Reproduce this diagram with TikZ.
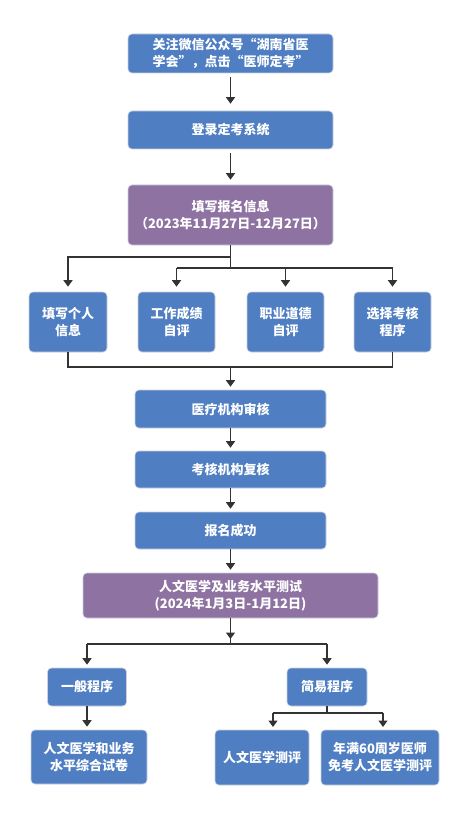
\documentclass[tikz,border=0pt]{standalone}
\usepackage{fontspec}
\newfontfamily\cjk{Noto Sans CJK SC}
\usetikzlibrary{arrows.meta}
\definecolor{boxblue}{HTML}{4F7EC2}
\definecolor{boxpurple}{HTML}{8E72A1}
\definecolor{boxedge}{HTML}{C9D2DE}
\definecolor{linegray}{HTML}{333333}
\begin{document}
\begin{tikzpicture}[x=1pt,y=-1pt,
  bx/.style={draw=boxedge,line width=0.6pt,fill=boxblue,rounded corners=4pt,text=white,
    font=\cjk\bfseries\fontsize{13}{17}\selectfont,align=center,inner sep=0pt},
  px/.style={bx,fill=boxpurple},
  ln/.style={draw=linegray,line width=1.2pt},
  arr/.style={ln,-{Triangle[length=6.5pt,width=9pt]},shorten >=3pt}]
\useasboundingbox[fill=white] (0,0) rectangle (466,813);
\node[bx,minimum width=205pt,minimum height=39pt] (b1) at (230.5,53.5) {关注微信公众号“湖南省医\\学会”，点击“医师定考”};
\node[bx,minimum width=205pt,minimum height=38pt] (b2) at (230.5,130) {登录定考系统};
\node[px,minimum width=205pt,minimum height=60pt] (b3) at (230.5,215) {填写报名信息\\（2023年11月27日-12月27日）};
\node[bx,minimum width=78pt,minimum height=60pt] (a) at (68,322) {填写个人\\信息};
\node[bx,minimum width=77pt,minimum height=60pt] (b) at (176.5,322) {工作成绩\\自评};
\node[bx,minimum width=77pt,minimum height=60pt] (c) at (285.5,322) {职业道德\\自评};
\node[bx,minimum width=77pt,minimum height=60pt] (d) at (392.5,322) {选择考核\\程序};
\node[bx,minimum width=191pt,minimum height=38pt] (e) at (230.5,409) {医疗机构审核};
\node[bx,minimum width=191pt,minimum height=37pt] (f) at (230.5,469.5) {考核机构复核};
\node[bx,minimum width=191pt,minimum height=37pt] (g) at (230.5,530.5) {报名成功};
\node[px,minimum width=295pt,minimum height=45pt] (h) at (230.5,595.5) {人文医学及业务水平测试\\(2024年1月3日-1月12日)};
\node[bx,minimum width=79pt,minimum height=38pt] (i) at (87,687) {一般程序};
\node[bx,minimum width=80pt,minimum height=38pt] (j) at (327,687) {简易程序};
\node[bx,minimum width=116pt,minimum height=54pt] (k) at (89,757) {人文医学和业务\\水平综合试卷};
\node[bx,minimum width=94pt,minimum height=55pt] (l) at (262,757.5) {人文医学测评};
\node[bx,minimum width=118pt,minimum height=55pt] (m) at (380,757.5) {年满60周岁医师\\免考人文医学测评};
% connectors
\draw[arr,shorten <=4pt,shorten >=7pt] (b1.south) -- (b2.north);
\draw[arr,shorten <=4pt,shorten >=5pt] (b2.south) -- (b3.north);
\coordinate (j1) at (230.5,257);
\coordinate (j2) at (230.5,268);
\draw[ln] (b3.south) -- (j2);
\draw[arr,shorten >=5pt] (j1) -| (a.north);
\draw[ln] (b.north |- j2) -- (d.north |- j2);
\draw[arr,shorten >=5pt] (b.north |- j2) -- (b.north);
\draw[arr,shorten >=5pt] (c.north |- j2) -- (c.north);
\draw[arr,shorten >=5pt] (d.north |- j2) -- (d.north);
\coordinate (j3) at (230.5,367);
\draw[ln] (a.south) -- (a.south |- j3) -- (d.south |- j3) -- (d.south);
\draw[arr] (j3) -- (e.north);
\draw[arr] (e.south) -- (f.north);
\draw[arr] (f.south) -- (g.north);
\draw[arr] (g.south) -- (h.north);
\coordinate (j4) at (230.5,644);
\draw[ln] (h.south) -- (j4);
\draw[arr,shorten >=5pt] (h.south) -- (j4);
\draw[ln] (i.north |- j4) -- (j.north |- j4);
\draw[arr] (i.north |- j4) -- (i.north);
\draw[arr] (j.north |- j4) -- (j.north);
\draw[arr] (i.south) -- (i.south |- k.north);
\coordinate (j5) at (327,713);
\draw[ln] (j.south) -- (j5);
\coordinate (lt) at (273,730);
\coordinate (mt) at (383,730);
\draw[ln] (lt |- j5) -- (mt |- j5);
\draw[arr] (lt |- j5) -- (lt);
\draw[arr] (mt |- j5) -- (mt);
\end{tikzpicture}
\end{document}
